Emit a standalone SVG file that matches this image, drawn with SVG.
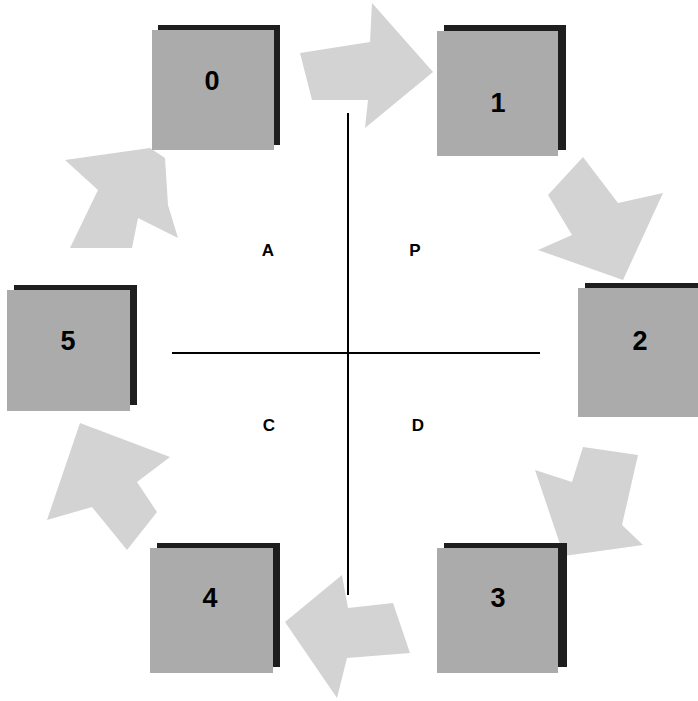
<svg xmlns="http://www.w3.org/2000/svg" width="698" height="701" viewBox="0 0 698 701">
<style>
.bg{fill:#ffffff}
.shadow{fill:#1e1e1e}
.box{fill:#ababab}
.num{font-family:"Liberation Sans",Arial,sans-serif;font-weight:bold;font-size:27px;fill:#000;text-anchor:middle}
.lbl{font-family:"Liberation Sans",Arial,sans-serif;font-weight:bold;font-size:17px;fill:#000;text-anchor:middle}
.arrow{fill:#d3d3d3}
.axis{stroke:#000;stroke-width:2;fill:none}
</style>
<rect class="bg" x="0" y="0" width="698" height="701"/>
<g id="connectors">
<polygon class="arrow" points="300,53 370,42 372,3 433,72 365,128 368,100 312,100"/>
<polygon class="arrow" points="548,195 583,157 618,203 663,193 623,280 538,250 572,235"/>
<polygon class="arrow" points="583,447 638,455 622,525 643,545 564,556 535,470 572,482"/>
<polygon class="arrow" points="393,603 410,653 347,658 337,698 285,622 342,575 348,608"/>
<polygon class="arrow" points="80,423 170,457 137,482 157,512 127,550 92,507 47,520"/>
<polygon class="arrow" points="65,160 150,148 165,158 168,205 178,238 138,218 132,248 70,248 98,190"/>
</g>
<g id="axes">
<line class="axis" x1="348" y1="113" x2="348" y2="595"/>
<line class="axis" x1="172" y1="353" x2="540" y2="353"/>
</g>
<g id="node0">
<rect class="shadow" x="158" y="25" width="122" height="120"/>
<rect class="box" x="152" y="30" width="122" height="120"/>
<text class="num" x="212" y="90">0</text>
</g>
<g id="node1">
<rect class="shadow" x="444" y="25" width="122" height="125"/>
<rect class="box" x="437" y="31" width="121" height="125"/>
<text class="num" x="498" y="112">1</text>
</g>
<g id="node2">
<rect class="shadow" x="585" y="283" width="120" height="128"/>
<rect class="box" x="578" y="288" width="125" height="129"/>
<text class="num" x="640" y="350">2</text>
</g>
<g id="node3">
<rect class="shadow" x="444" y="543" width="123" height="124"/>
<rect class="box" x="437" y="548" width="121" height="125"/>
<text class="num" x="498" y="607">3</text>
</g>
<g id="node4">
<rect class="shadow" x="157" y="543" width="123" height="124"/>
<rect class="box" x="150" y="548" width="123" height="125"/>
<text class="num" x="210" y="607">4</text>
</g>
<g id="node5">
<rect class="shadow" x="14" y="285" width="123" height="120"/>
<rect class="box" x="7" y="290" width="123" height="121"/>
<text class="num" x="68" y="350">5</text>
</g>
<g id="labels">
<text class="lbl" x="268" y="256">A</text>
<text class="lbl" x="415" y="256">P</text>
<text class="lbl" x="269" y="431">C</text>
<text class="lbl" x="418" y="431">D</text>
</g>
</svg>
